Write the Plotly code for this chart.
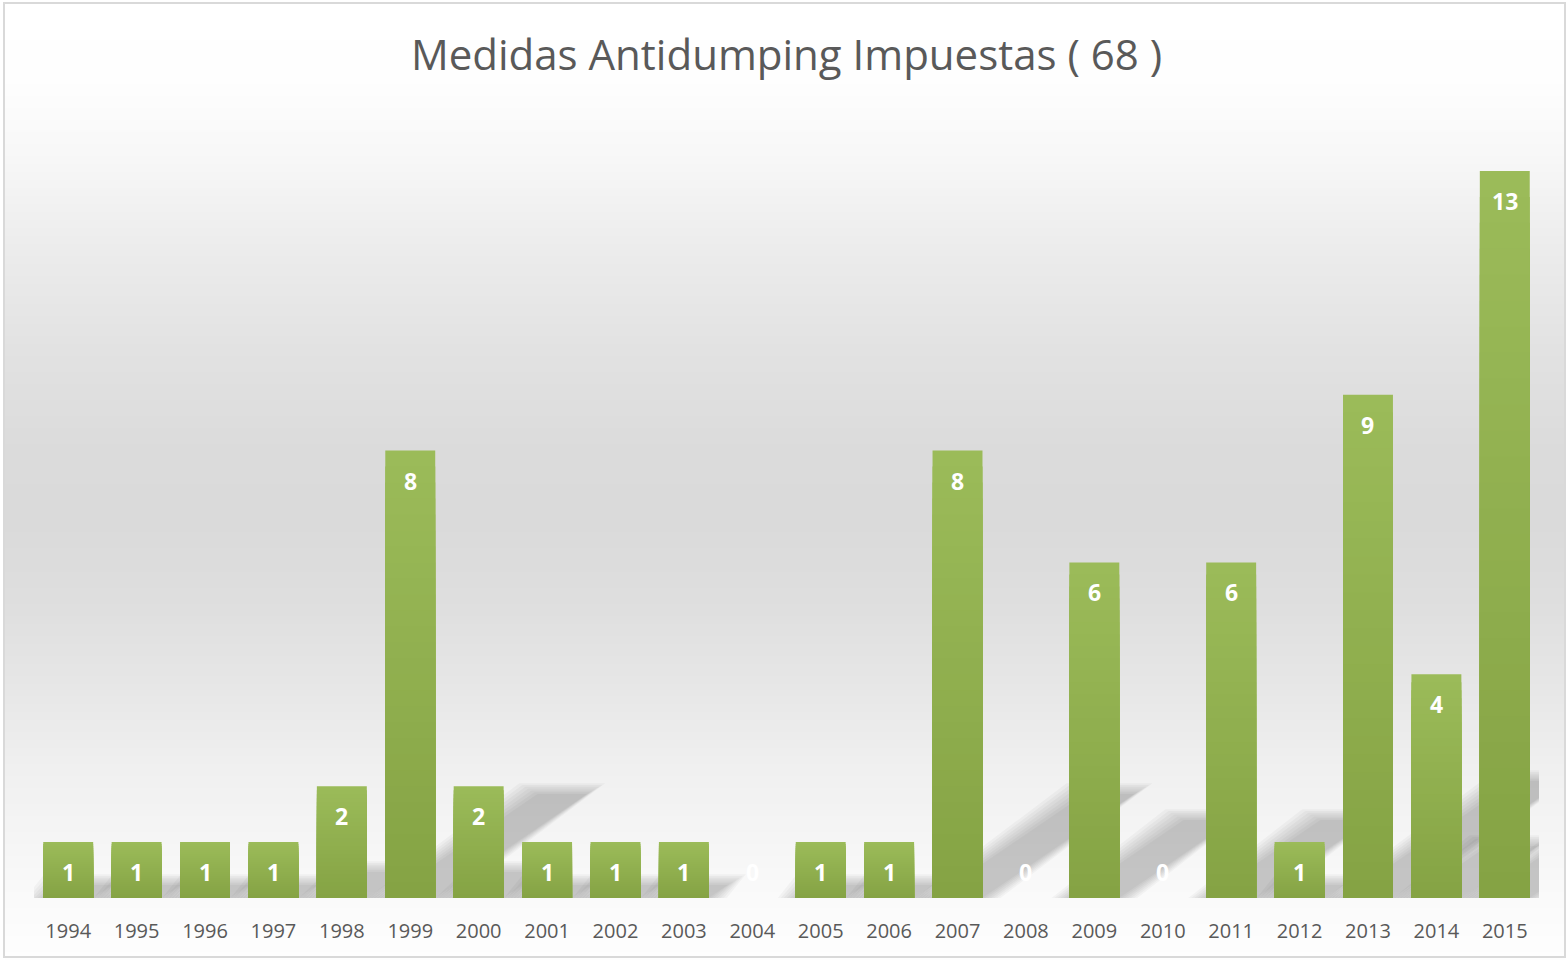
import plotly.graph_objects as go
import numpy as np

years = [str(y) for y in range(1994, 2016)]
values = [1, 1, 1, 1, 2, 8, 2, 1, 1, 1, 0, 1, 1, 8, 0, 6, 0, 6, 1, 9, 4, 13]
title_text = "Medidas Antidumping Impuestas ( 68 )"

W, H = 1567, 960
ML, MR, MT, MB = 34, 28, 115, 62
PW, PH = W - ML - MR, H - MT - MB
YMAX = 14.0
FONT = "Open Sans"

def hexc(rgb):
    return "#%02x%02x%02x" % tuple(int(round(c)) for c in rgb)

def px_to_paper_x(px):
    return (px - ML) / PW

def py_to_paper_y(py):
    return (H - MB - py) / PH

fig = go.Figure()

# --- bars with vertical gradient (overlay layers) ---
light = np.array([0x9B, 0xBB, 0x59])
dark = np.array([0x85, 0xA3, 0x44])
N = 28
x_idx = list(range(len(years)))
for k in range(N):
    t = k / (N - 1)
    col = hexc(light + (dark - light) * t)
    fig.add_trace(go.Bar(
        x=x_idx, y=[v * (1 - k / N) for v in values],
        width=0.73, marker=dict(color=col, line=dict(width=0)),
        hoverinfo="skip", showlegend=False))

shapes = []
# --- background gradient ---
stops_py = [0, 80, 150, 250, 350, 450, 520, 600, 700, 770, 850, 900, 960]
stops_g = [255, 254, 248, 236, 226, 219, 218, 222, 232, 240, 246, 250, 254]
band = 4
for py in range(4, 957, band):
    g = np.interp(py + band / 2, stops_py, stops_g)
    shapes.append(dict(type="rect", xref="paper", yref="paper",
                       x0=px_to_paper_x(5), x1=px_to_paper_x(1565),
                       y0=py_to_paper_y(py + band + 0.5), y1=py_to_paper_y(py),
                       fillcolor=hexc([g, g, g]), line=dict(width=0), layer="below"))

# --- perspective shadows (blurred by stacked translucent layers) ---
ux = PW / len(years)          # px per category
uy = PH / YMAX                # px per value unit
a_px, b_px = 19.0, 13.0       # shadow offset per unit value (px)
hw = 0.365
blur = [0, 3, 6, 9, 12, 15, 18]
for i, v in enumerate(values):
    if v <= 0:
        continue
    dxv = a_px * v / ux
    dyv = b_px * v / uy
    for e in blur:
        ex = e / ux
        ey = e / uy
        xl0 = i - hw - ex
        xr0 = i + hw + ex
        xl1 = i - hw + dxv - ex
        xr1 = i + hw + dxv + ex
        y0 = 0
        y1 = dyv + ey * 0.6
        path = f"M {xl0} {y0} L {xr0} {y0} L {xr1} {y1} L {xl1} {y1} Z"
        shapes.append(dict(type="path", xref="x", yref="y", path=path,
                           fillcolor="#000000", opacity=0.031,
                           line=dict(width=0), layer="below"))

# --- border ---
shapes.append(dict(type="rect", xref="paper", yref="paper",
                   x0=px_to_paper_x(4), x1=px_to_paper_x(1565),
                   y0=py_to_paper_y(957), y1=py_to_paper_y(3),
                   fillcolor="rgba(0,0,0,0)", line=dict(color="#D9D9D9", width=2),
                   layer="above"))

annotations = []
for i, v in enumerate(values):
    annotations.append(dict(x=i, y=v, xref="x", yref="y", text=str(v),
                            showarrow=False, yshift=(-30 if v > 0 else 26),
                            font=dict(family=FONT, size=23, color="white", weight="bold")))

fig.update_layout(
    width=W, height=H,
    margin=dict(l=ML, r=MR, t=MT, b=MB, autoexpand=False),
    paper_bgcolor="white", plot_bgcolor="rgba(0,0,0,0)",
    barmode="overlay",
    title=dict(text=title_text, x=0.5, xref="paper", xanchor="center",
               y=1 - 55 / H, yanchor="middle",
               font=dict(family=FONT, size=42, color="#595959")),
    xaxis=dict(range=[-0.5, len(years) - 0.5], tickmode="array", tickvals=x_idx,
               ticktext=years, showgrid=False, zeroline=False, showline=False,
               ticks="", ticklabelstandoff=19,
               tickfont=dict(family=FONT, size=20, color="#595959")),
    yaxis=dict(range=[0, YMAX], visible=False, showgrid=False, zeroline=False),
    shapes=shapes, annotations=annotations,
    hovermode=False,
)

fig.write_html("out.html", config={"displayModeBar": False},
               post_script="document.body.style.margin='0px';")
